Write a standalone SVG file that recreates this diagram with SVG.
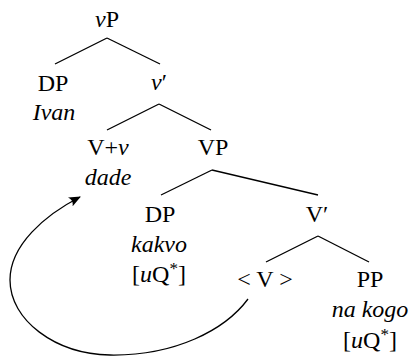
<svg xmlns="http://www.w3.org/2000/svg" width="414" height="358" viewBox="0 0 414 358">
<defs>
<marker id="ah" viewBox="0 0 12 10" refX="11" refY="5" markerWidth="12" markerHeight="10" markerUnits="userSpaceOnUse" orient="auto">
<path d="M0,0 Q4,5 0,10 L12,5 Z" fill="#000"/>
</marker>
</defs>
<rect width="414" height="358" fill="#fff"/>
<g id="connectors" stroke="#000" stroke-width="1.3" fill="none">
<line x1="107" y1="38" x2="55" y2="64"/>
<line x1="107" y1="38" x2="160" y2="64"/>
<line x1="159" y1="104" x2="107" y2="130"/>
<line x1="159" y1="104" x2="211" y2="130"/>
<line x1="212" y1="170" x2="161" y2="195"/>
<line x1="212" y1="170" x2="318" y2="195"/>
<line x1="318" y1="236" x2="266" y2="262"/>
<line x1="318" y1="236" x2="369" y2="262"/>
<path d="M248,299 C225,330 175,356 110,355 C55,354 10,320 10,280 C10,245 45,215 80,197" marker-end="url(#ah)"/>
</g>
<g id="vP"><text font-family="Liberation Serif" style="font-family:'Liberation Serif',serif" font-size="24" text-anchor="middle" x="107" y="27"><tspan font-style="italic">v</tspan>P</text></g>
<g id="DP-Ivan"><text font-family="Liberation Serif" style="font-family:'Liberation Serif',serif" font-size="24" text-anchor="middle" x="53" y="91">DP</text><text font-family="Liberation Serif" style="font-family:'Liberation Serif',serif" font-size="24" text-anchor="middle" font-style="italic" x="54" y="120">Ivan</text></g>
<g id="vbar"><text font-family="Liberation Serif" style="font-family:'Liberation Serif',serif" font-size="24" text-anchor="middle" x="159" y="90"><tspan font-style="italic">v</tspan>′</text></g>
<g id="Vv-dade"><text font-family="Liberation Serif" style="font-family:'Liberation Serif',serif" font-size="24" text-anchor="middle" x="108" y="155">V+<tspan font-style="italic">v</tspan></text><text font-family="Liberation Serif" style="font-family:'Liberation Serif',serif" font-size="24" text-anchor="middle" font-style="italic" x="108" y="185">dade</text></g>
<g id="VP"><text font-family="Liberation Serif" style="font-family:'Liberation Serif',serif" font-size="24" text-anchor="middle" x="213" y="155">VP</text></g>
<g id="DP-kakvo"><text font-family="Liberation Serif" style="font-family:'Liberation Serif',serif" font-size="24" text-anchor="middle" x="160" y="222">DP</text><text font-family="Liberation Serif" style="font-family:'Liberation Serif',serif" font-size="24" text-anchor="middle" font-style="italic" x="159" y="252">kakvo</text><text font-family="Liberation Serif" style="font-family:'Liberation Serif',serif" font-size="24" text-anchor="middle" x="159" y="282">[<tspan font-style="italic">u</tspan>Q<tspan font-size="17" dy="-8">*</tspan><tspan dy="8">]</tspan></text></g>
<g id="Vbar"><text font-family="Liberation Serif" style="font-family:'Liberation Serif',serif" font-size="24" text-anchor="middle" x="317" y="222">V′</text></g>
<g id="V-trace"><text font-family="Liberation Serif" style="font-family:'Liberation Serif',serif" font-size="24" text-anchor="middle" x="265" y="287">&lt; V &gt;</text></g>
<g id="PP"><text font-family="Liberation Serif" style="font-family:'Liberation Serif',serif" font-size="24" text-anchor="middle" x="370" y="287">PP</text><text font-family="Liberation Serif" style="font-family:'Liberation Serif',serif" font-size="24" text-anchor="middle" font-style="italic" x="370" y="317">na kogo</text><text font-family="Liberation Serif" style="font-family:'Liberation Serif',serif" font-size="24" text-anchor="middle" x="370" y="348">[<tspan font-style="italic">u</tspan>Q<tspan font-size="17" dy="-8">*</tspan><tspan dy="8">]</tspan></text></g>
</svg>
